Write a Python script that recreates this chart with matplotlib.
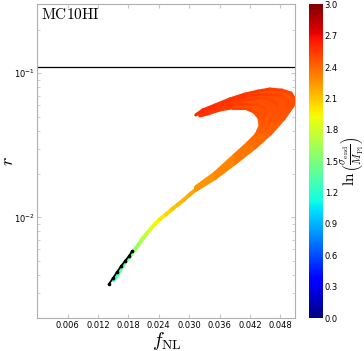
import numpy as np
import matplotlib
matplotlib.use('Agg')
import matplotlib.pyplot as plt
from matplotlib.collections import LineCollection
from matplotlib.colors import Normalize
from matplotlib.cm import ScalarMappable
from matplotlib.ticker import NullFormatter, FormatStrFormatter

plt.rcParams['mathtext.fontset'] = 'cm'

# ---------------- data ----------------
# thin part of the trajectory (colored)
thin_f = [0.0151, 0.0159, 0.0167, 0.0175, 0.0183, 0.0191, 0.0199, 0.0207, 0.0215,
          0.0223, 0.0232, 0.0242, 0.0254, 0.0266, 0.0278, 0.0290, 0.0301, 0.0313]
thin_r = [0.00368, 0.00404, 0.00452, 0.00498, 0.00538, 0.00592, 0.00641, 0.00705, 0.00764,
          0.00827, 0.00895, 0.0097, 0.0105, 0.0114, 0.0123, 0.0133, 0.0144, 0.0156]
thin_c = [1.25, 1.30, 1.35, 1.42, 1.48, 1.55, 1.60, 1.68, 1.75,
          1.82, 1.90, 1.97, 2.03, 2.08, 2.12, 2.16, 2.19, 2.22]

# black points
black_f = [0.01415, 0.01494, 0.01573, 0.01652, 0.01731, 0.01810, 0.01869]
black_r = [0.00345, 0.00380, 0.00418, 0.00459, 0.00498, 0.00538, 0.00583]

# wide band / hook, several strands
s1_f = [0.0313, 0.0351, 0.0390, 0.0430, 0.0461, 0.0487, 0.0505, 0.0509, 0.0501,
        0.0483, 0.0459, 0.0436, 0.0410, 0.0380, 0.0351, 0.0327, 0.0313]
s1_r = [0.0154, 0.0186, 0.0236, 0.0304, 0.0380, 0.0482, 0.0592, 0.0662, 0.0728,
        0.0763, 0.0776, 0.0751, 0.0716, 0.0662, 0.0601, 0.0556, 0.0513]
s1_c = [2.22, 2.28, 2.33, 2.38, 2.42, 2.45, 2.48, 2.50, 2.51,
        2.52, 2.53, 2.54, 2.55, 2.56, 2.57, 2.58, 2.60]

s2_f = [0.0313, 0.0351, 0.0390, 0.0428, 0.0455, 0.0479, 0.0493, 0.0493, 0.0481,
        0.0459, 0.0436, 0.0410, 0.0380, 0.0351, 0.0321]
s2_r = [0.0157, 0.0190, 0.0245, 0.0314, 0.0386, 0.0474, 0.0574, 0.0651, 0.0705,
        0.0716, 0.0716, 0.0683, 0.0641, 0.0592, 0.0530]
s2_c = [2.22, 2.28, 2.33, 2.38, 2.42, 2.45, 2.48, 2.50, 2.51,
        2.52, 2.53, 2.55, 2.56, 2.58, 2.60]

s3_f = [0.0313, 0.0351, 0.0390, 0.0424, 0.0450, 0.0467, 0.0475, 0.0473, 0.0459,
        0.0436, 0.0410, 0.0380, 0.0351, 0.0327]
s3_r = [0.0159, 0.0195, 0.0253, 0.0319, 0.0386, 0.0459, 0.0538, 0.0611, 0.0662,
        0.0672, 0.0651, 0.0621, 0.0574, 0.0530]
s3_c = [2.22, 2.28, 2.33, 2.37, 2.41, 2.44, 2.47, 2.49, 2.51,
        2.52, 2.53, 2.55, 2.57, 2.59]

s4_f = [0.0313, 0.0351, 0.0390, 0.0420, 0.0442, 0.0453, 0.0455, 0.0448, 0.0432,
        0.0410, 0.0384, 0.0357, 0.0331]
s4_r = [0.0161, 0.0200, 0.0263, 0.0322, 0.0385, 0.0445, 0.0513, 0.0574, 0.0611,
        0.0611, 0.0601, 0.0565, 0.0522]
s4_c = [2.22, 2.28, 2.33, 2.37, 2.40, 2.43, 2.46, 2.49, 2.51,
        2.52, 2.54, 2.56, 2.58]

s5_f = [0.0313, 0.0351, 0.0390, 0.0416, 0.0432, 0.0440, 0.0438, 0.0428, 0.0410,
        0.0384, 0.0361, 0.0337, 0.0321]
s5_r = [0.0163, 0.0204, 0.0272, 0.0329, 0.0375, 0.0431, 0.0489, 0.0538, 0.0574,
        0.0574, 0.0556, 0.0522, 0.0505]
s5_c = [2.22, 2.28, 2.33, 2.37, 2.40, 2.43, 2.46, 2.49, 2.51,
        2.52, 2.54, 2.56, 2.58]

hook_fill_c = 2.47
r_line = 0.11
x_ticks = [0.006, 0.012, 0.018, 0.024, 0.030, 0.036, 0.042, 0.048]
cb_ticks = [0.0, 0.3, 0.6, 0.9, 1.2, 1.5, 1.8, 2.1, 2.4, 2.7, 3.0]
label_text = 'MC10HI'

# ---------------- plot ----------------
fig = plt.figure(figsize=(3.64, 3.51), dpi=100)
ax = fig.add_axes([0.1025, 0.0932, 0.7093, 0.8945])
cax = fig.add_axes([0.8497, 0.094, 0.0385, 0.8937])
norm = Normalize(0, 3)
cmap = plt.get_cmap('jet')


def draw(f, r, c, lw):
    pts = np.column_stack([f, r])
    segs = np.stack([pts[:-1], pts[1:]], axis=1)
    cs = (np.asarray(c[:-1]) + np.asarray(c[1:])) / 2
    lc = LineCollection(segs, cmap=cmap, norm=norm, linewidths=lw,
                        capstyle='round', joinstyle='round')
    lc.set_array(cs)
    ax.add_collection(lc)


# fill the region enclosed by the outer and inner strands (hook body)
ax.fill(list(s1_f) + list(s5_f[::-1]), list(s1_r) + list(s5_r[::-1]),
        color=cmap(norm(hook_fill_c)), lw=0, zorder=1)

draw(thin_f, thin_r, thin_c, 2.8)
for f, r, c in [(s1_f, s1_r, s1_c), (s2_f, s2_r, s2_c), (s3_f, s3_r, s3_c),
                (s4_f, s4_r, s4_c), (s5_f, s5_r, s5_c)]:
    draw(f, r, c, 2.2)

ax.plot(black_f, black_r, color='black', lw=1.3, marker='o', ms=1.6, zorder=5)
ax.axhline(r_line, color='black', lw=0.9)

ax.set_yscale('log')
ax.set_xlim(0, 0.051)
ax.set_ylim(0.002, 0.3)
ax.set_xticks(x_ticks)
ax.xaxis.set_major_formatter(FormatStrFormatter('%.3f'))
ax.yaxis.set_minor_formatter(NullFormatter())

for sp in ax.spines.values():
    sp.set_color('#b0b0b0')
ax.tick_params(which='both', direction='in', colors='#c8c8c8', labelcolor='black',
               labelsize=6, top=True, right=True)
ax.tick_params(which='major', length=3, pad=2)
ax.tick_params(which='minor', length=2)

ax.text(0.013, 0.99, r'$\mathrm{' + label_text + '}$', transform=ax.transAxes,
        ha='left', va='top', fontsize=11)
ax.set_xlabel(r'$f_{\rm NL}$', fontsize=14, labelpad=0)
ax.set_ylabel(r'$r$', fontsize=13)
ax.yaxis.set_label_coords(-0.079, 0.5)

cb = fig.colorbar(ScalarMappable(norm=norm, cmap=cmap), cax=cax, ticks=cb_ticks)
cb.outline.set_visible(False)
cb.ax.yaxis.set_major_formatter(FormatStrFormatter('%.1f'))
cb.ax.tick_params(labelsize=6, length=0, pad=1)
fig.text(0.966, 0.541, r'$\ln\left(\frac{\sigma_{\rm end}}{M_{\rm Pl}}\right)$',
         rotation=90, ha='center', va='center', fontsize=11)

fig.savefig('out.png', dpi=100)
